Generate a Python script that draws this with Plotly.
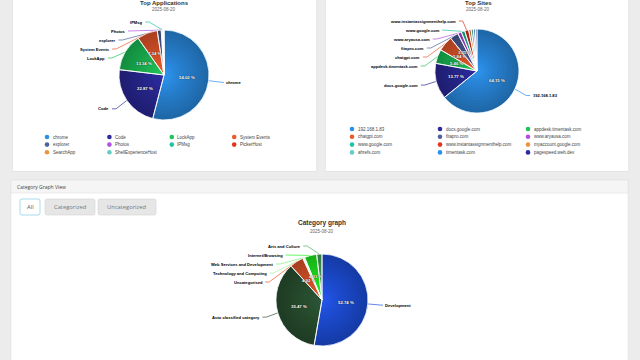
import math
import plotly.graph_objects as go

W, H = 640, 360

# ---------------- data ----------------
app_labels = ["chrome", "Code", "LockApp", "System Events", "explorer", "Photos",
              "IPMsg", "PickerHost", "SearchApp", "ShellExperienceHost"]
app_values = [54.02, 22.87, 13.34, 7.34, 1.45, 0.35, 0.30, 0.15, 0.10, 0.08]

site_labels = ["192.168.1.83", "docs.google.com", "appdesk.timentask.com", "chatgpt.com",
               "fitapro.com", "www.aryausa.com", "www.google.com",
               "www.instantassignmenthelp.com", "myaccount.google.com", "ahrefs.com",
               "timentask.com", "pagespeed.web.dev"]
site_values = [64.15, 13.77, 5.46, 5.84, 3.25, 1.42, 1.38, 1.52, 0.95, 0.88, 0.72, 0.66]

cat_labels = ["Development", "Auto classified category", "Uncategorised",
              "Technology and Computing", "Web Services and Development",
              "Internet/Browsing", "Arts and Culture"]
cat_values = [52.74, 35.47, 4.92, 0.32, 0.38, 4.31, 1.86]

date_text = "2025-08-20"
buttons = ["All", "Categorized", "Uncategorized"]

palette = ["#2c90e8", "#2c2a9e", "#1fc45a", "#ec5a2c", "#4e629c",
           "#b350e3", "#22c2a4", "#e2341f", "#ea9545", "#66cdc6"]
cat_colors = ["#2153e6", "#2c5436", "#e9582a", "#a8f0a0", "#7cee7c", "#22f522", "#4cae5a"]

FONT_HC = "Liberation Sans, Arial, sans-serif"
FONT_UI = "Open Sans, Noto Sans, sans-serif"


def shadow_supported():
    try:
        go.layout.Annotation(font=dict(shadow="0px 0px 1px #000000"))
        return True
    except Exception:
        return False


SHADOW = shadow_supported()

fig = go.Figure()
shapes = []
annotations = []


def rect(x0, y0, x1, y1, fill, line=None, lw=0):
    shapes.append(dict(type="rect", xref="x", yref="y", x0=x0, y0=y0, x1=x1, y1=y1,
                       fillcolor=fill, line=dict(color=line or fill, width=lw), layer="below"))


def rrect(x0, y0, x1, y1, rad, fill, line, lw):
    p = (f"M{x0+rad},{y0} L{x1-rad},{y0} Q{x1},{y0} {x1},{y0+rad} L{x1},{y1-rad} "
         f"Q{x1},{y1} {x1-rad},{y1} L{x0+rad},{y1} Q{x0},{y1} {x0},{y1-rad} "
         f"L{x0},{y0+rad} Q{x0},{y0} {x0+rad},{y0} Z")
    shapes.append(dict(type="path", xref="x", yref="y", path=p, fillcolor=fill,
                       line=dict(color=line, width=lw), layer="below"))


def text(t, x, y, size, color, family=FONT_HC, xanchor="center", bold=False, extra=None):
    f = dict(size=size, color=color, family=family)
    if extra:
        f.update(extra)
    annotations.append(dict(text=("<b>%s</b>" % t) if bold else t, x=x, y=y, xref="x", yref="y",
                            showarrow=False, xanchor=xanchor, yanchor="middle", font=f,
                            borderpad=0))


# ---------------- cards / background ----------------
rect(12.5, -5, 316.5, 172, "#e3e3e3")
rect(13, -5, 316, 171, "#ffffff")
rect(325.5, -5, 628.5, 172, "#e3e3e3")
rect(326, -5, 628, 171, "#ffffff")
rect(11, 180, 628, 365, "#ffffff", "#e0e0e0", 0.6)
rect(11, 180, 628, 193, "#f5f5f5", "#e0e0e0", 0.6)
text("Category Graph View", 16, 186.5, 5, "#444444", FONT_UI, xanchor="left")

btn_geo = [(20, 40), (45, 95), (98, 156)]
for name, (bx0, bx1) in zip(buttons, btn_geo):
    if name == "All":
        rrect(bx0, 199, bx1, 215, 2, "#ffffff", "#8fd3ea", 0.8)
        col = "#555555"
    else:
        rrect(bx0, 199, bx1, 215, 2, "#e6e6e6", "#d4d4d4", 0.6)
        col = "#777777"
    text(name, (bx0 + bx1) / 2, 207, 5.8, col, FONT_UI)


# ---------------- pie helper ----------------
def slice_geometry(values):
    total = float(sum(values))
    out, cum = [], 0.0
    for v in values:
        a0 = cum / total * 360.0
        cum += v
        a1 = cum / total * 360.0
        out.append((a0, a1, (a0 + a1) / 2.0, 100.0 * v / total))
    return out


def add_pie(labels, values, colors, cx, cy, r, max_labels):
    dom = dict(x=[(cx - r) / W, (cx + r) / W], y=[1 - (cy + r) / H, 1 - (cy - r) / H])
    common = dict(sort=False, direction="clockwise", rotation=0, textinfo="none",
                  hoverinfo="skip", showlegend=False, domain=dom)
    fig.add_trace(go.Pie(labels=labels, values=values,
                         marker=dict(colors=colors, line=dict(width=0)), **common))
    # soft radial shading (darker towards the rim)
    for k in range(12):
        h = 0.12 + k * 0.072
        fig.add_trace(go.Pie(labels=["shade"], values=[1], hole=h,
                             marker=dict(colors=["rgba(0,0,0,0.024)"], line=dict(width=0)),
                             **common))
    fig.add_trace(go.Pie(labels=labels, values=values,
                         marker=dict(colors=["rgba(0,0,0,0)"] * len(values),
                                     line=dict(color="#ffffff", width=0.8)), **common))

    geo = slice_geometry(values)
    # inside percentage labels
    extra = dict(shadow="0px 0px 1px #000000") if SHADOW else None
    for (a0, a1, mid, pct) in geo:
        if pct >= 2.0:
            rr = r * 0.52
            x = cx + rr * math.sin(math.radians(mid))
            y = cy - rr * math.cos(math.radians(mid))
            text("%.2f %%" % pct, x, y, 4.3, "#ffffff", bold=True, extra=extra)

    # outside name labels with connectors
    order = sorted(range(len(values)), key=lambda i: -values[i])[:max_labels]
    R = r + 15
    top = cy - r - 8
    gap = 9
    left = sorted([i for i in order if geo[i][2] > 180], key=lambda i: -geo[i][2])
    right = sorted([i for i in order if geo[i][2] <= 180],
                   key=lambda i: cy - R * math.cos(math.radians(geo[i][2])))
    for side, idxs in ((-1, left), (1, right)):
        prev = None
        for i in idxs:
            mid = math.radians(geo[i][2])
            ynat = cy - R * math.cos(mid)
            y = max(ynat, top) if prev is None else max(ynat, prev + gap)
            prev = y
            u = cy - y + 4
            xoff = math.sqrt(max(R * R - u * u, 0.0))
            xa = cx + side * xoff
            ex, ey = cx + r * math.sin(mid), cy - r * math.cos(mid)
            fig.add_trace(go.Scatter(x=[ex, xa - side * 4, xa], y=[ey, y, y], mode="lines",
                                     line=dict(color=colors[i], width=0.7),
                                     hoverinfo="skip", showlegend=False))
            text(labels[i], xa + side * 1.5, y, 4.1, "#000000",
                 xanchor="right" if side < 0 else "left", bold=True)


def add_titles(title, x, y_title, y_date, tsize=6.5):
    text(title, x, y_title, tsize, "#333333", bold=True)
    text(date_text, x, y_date, 4.5, "#666666")


def add_legend(labels, colors, x0, y0, dx, dy, ncol):
    xs = [x0 + (i % ncol) * dx for i in range(len(labels))]
    ys = [y0 + (i // ncol) * dy for i in range(len(labels))]
    fig.add_trace(go.Scatter(x=xs, y=ys, mode="markers",
                             marker=dict(size=4.6, color=colors, line=dict(width=0)),
                             hoverinfo="skip", showlegend=False))
    for lab, x, y in zip(labels, xs, ys):
        text(lab, x + 4.5, y, 4.5, "#444444", xanchor="left")


app_colors = [palette[i % len(palette)] for i in range(len(app_labels))]
site_colors = [palette[i % len(palette)] for i in range(len(site_labels))]

add_pie(app_labels, app_values, app_colors, 164, 75, 45, 7)
add_pie(site_labels, site_values, site_colors, 477, 71, 42, 8)
add_pie(cat_labels, cat_values, cat_colors, 322, 300, 46, 7)

add_titles("Top Applications", 164, 3.4, 9.6, tsize=6.0)
add_titles("Top Sites", 478, 3.4, 9.6, tsize=6.0)
add_titles("Category graph", 322, 223, 231.5)

add_legend(app_labels, app_colors, 47, 137, 62.4, 7.6, 4)
add_legend(site_labels, site_colors, 352, 129, 88, 7.8, 3)

fig.update_layout(
    width=W, height=H,
    margin=dict(l=0, r=0, t=0, b=0),
    paper_bgcolor="#ececec", plot_bgcolor="#ececec",
    showlegend=False,
    xaxis=dict(range=[0, W], visible=False, fixedrange=True, domain=[0, 1]),
    yaxis=dict(range=[H, 0], visible=False, fixedrange=True, domain=[0, 1]),
    shapes=shapes, annotations=annotations,
)

fig.write_html("out.html",
               config={"displayModeBar": False},
               post_script="document.body.style.margin='0px';"
                           "document.body.style.background='#ececec';")
